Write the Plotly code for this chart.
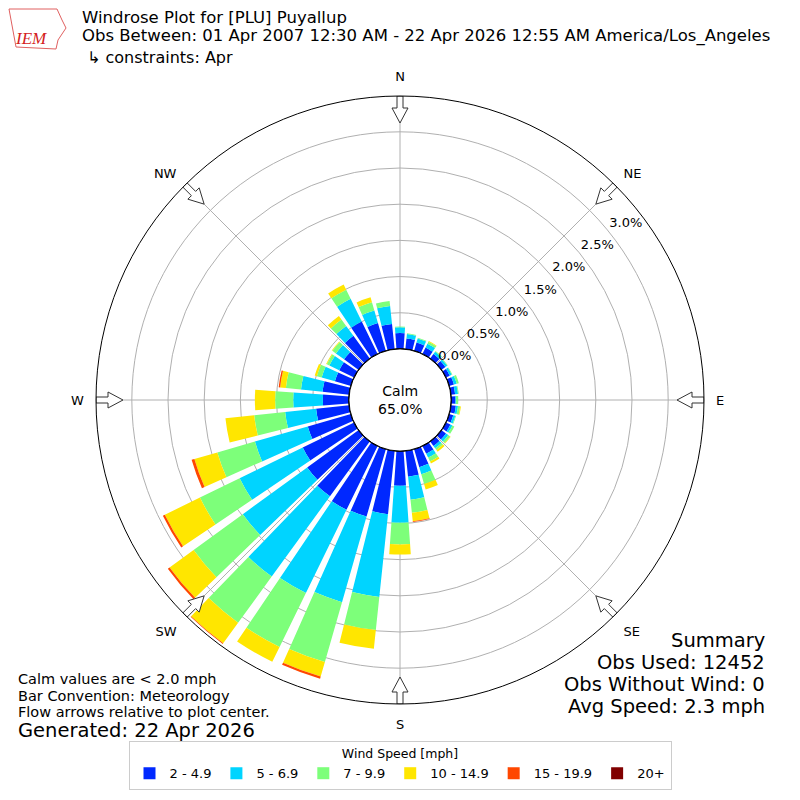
import math
import plotly.graph_objects as go

# -- data: percent of observations by direction (deg, meteorology) and speed bin
directions = list(range(0, 360, 10))
speed_bins = ["2 - 4.9", "5 - 6.9", "7 - 9.9", "10 - 14.9", "15 - 19.9", "20+"]
bin_colors = ["#0028ff", "#00d4ff", "#7dff7a", "#ffe600", "#ff4700", "#800000"]

spd_2_5 = [0.22, 0.15, 0.12, 0.10, 0.08, 0.07, 0.06, 0.07, 0.06, 0.06, 0.07, 0.06,
           0.07, 0.08, 0.08, 0.12, 0.26, 0.36, 0.48, 0.88, 0.97, 0.98, 0.94, 0.88,
           0.79, 0.62, 0.46, 0.36, 0.37, 0.23, 0.23, 0.25, 0.39, 0.50, 0.40, 0.35]
spd_5_7 = [0.08, 0.06, 0.06, 0.06, 0.04, 0.03, 0.03, 0.04, 0.04, 0.01, 0.03, 0.03,
           0.03, 0.04, 0.04, 0.06, 0.10, 0.32, 0.51, 1.15, 1.23, 1.28, 1.37, 1.10,
           0.97, 0.76, 0.43, 0.41, 0.30, 0.19, 0.15, 0.14, 0.17, 0.35, 0.18, 0.25]
spd_7_10 = [0.01, 0.01, 0.01, 0.03, 0.01, 0.01, 0.01, 0.03, 0.01, 0.03, 0.03, 0.01,
            0.03, 0.03, 0.03, 0.06, 0.14, 0.18, 0.30, 0.46, 0.86, 0.83, 0.79, 0.84,
            0.61, 0.54, 0.43, 0.25, 0.21, 0.07, 0.04, 0.06, 0.11, 0.14, 0.12, 0.07]
spd_10_15 = [0.0, 0.0, 0.0, 0.01, 0.0, 0.0, 0.0, 0.0, 0.0, 0.0, 0.01, 0.0,
             0.0, 0.01, 0.03, 0.03, 0.08, 0.12, 0.14, 0.26, 0.21, 0.23, 0.35, 0.41,
             0.54, 0.33, 0.40, 0.28, 0.08, 0.03, 0.01, 0.01, 0.06, 0.08, 0.07, 0.0]
spd_15_20 = [0.0, 0.0, 0.0, 0.0, 0.0, 0.0, 0.0, 0.0, 0.0, 0.0, 0.0, 0.0,
             0.0, 0.0, 0.0, 0.0, 0.0, 0.01, 0.0, 0.0, 0.03, 0.0, 0.01, 0.03,
             0.03, 0.04, 0.0, 0.0, 0.02, 0.0, 0.0, 0.0, 0.0, 0.0, 0.0, 0.0]
spd_20_up = [0.0] * 36

compass_angles = [0, 45, 90, 135, 180, 225, 270, 315]
compass_labels = ["N", "NE", "E", "SE", "S", "SW", "W", "NW"]
ring_vals = [0.0, 0.5, 1.0, 1.5, 2.0, 2.5, 3.0]

calm_pct = 65.0
r_max = 3.495
hole = 0.168

font = "DejaVu Sans"

# page puts the plot 8px in from the corner, so place things 8px up/left
OFF = 8


def px(x):
    return (x - OFF) / 800.0


def py(y):
    return 1 - (y - OFF) / 800.0


fig = go.Figure()

# Add traces (stacked bars)
for name, vals, color in zip(speed_bins,
                             [spd_2_5, spd_5_7, spd_7_10, spd_10_15, spd_15_20, spd_20_up],
                             bin_colors):
    fig.add_trace(go.Barpolar(
        r=vals, theta=directions, width=8, name=name,
        marker=dict(color=color, line=dict(width=0)),
    ))

# calm circle outline
circ = list(range(0, 361, 2))
fig.add_trace(go.Scatterpolar(
    r=[0] * len(circ), theta=circ, mode="lines",
    line=dict(color="black", width=1.5), showlegend=False, hoverinfo="skip",
))

# ring labels, set a little outside each ring like matplotlib does
fig.add_trace(go.Scatterpolar(
    r=[v + 0.255 for v in ring_vals], theta=[52] * len(ring_vals), mode="text",
    text=["%.1f%%" % v for v in ring_vals], textfont=dict(size=13, family=font, color="black"),
    showlegend=False, hoverinfo="skip", cliponaxis=False,
))


# flow arrows on the rim, pointing to the center
def arrow(bearing, outer_px=304.0, hole_px=51.0):
    tmpl = [(0, -3), (12, -3), (12, -8), (27, 0), (12, 8), (12, 3), (0, 3), (0, -3)]
    rr, tt = [], []
    for d, w in tmpl:
        rp = outer_px - d
        dist = math.hypot(rp, w)
        rr.append(r_max * (dist - hole_px) / (outer_px - hole_px))
        tt.append(bearing + math.degrees(math.atan2(w, rp)))
    return rr, tt


for b in compass_angles:
    rr, tt = arrow(b)
    fig.add_trace(go.Scatterpolar(
        r=rr, theta=tt, mode="lines", fill="toself", fillcolor="white",
        line=dict(color="#333333", width=1), showlegend=False, hoverinfo="skip",
    ))

fig.update_layout(
    width=800, height=800,
    margin=dict(l=0, r=0, t=0, b=0),
    paper_bgcolor="white",
    font=dict(family=font, size=13, color="black"),
    polar=dict(
        domain=dict(x=[px(96), px(704)], y=[py(704), py(96)]),
        hole=hole,
        bgcolor="white",
        barmode="stack",
        angularaxis=dict(
            rotation=90, direction="clockwise",
            tickmode="array", tickvals=compass_angles, ticktext=compass_labels,
            showgrid=True, gridcolor="#b0b0b0", gridwidth=1,
            showline=True, linecolor="black", linewidth=1,
            ticks="outside", ticklen=9, tickcolor="rgba(0,0,0,0)",
            tickfont=dict(size=13),
        ),
        radialaxis=dict(
            range=[0, r_max], angle=45,
            tickmode="array", tickvals=ring_vals, showticklabels=False,
            showgrid=True, gridcolor="#b0b0b0", gridwidth=1,
            showline=False, ticks="",
        ),
    ),
    legend=dict(
        orientation="h", x=px(400), xanchor="center", y=py(790), yanchor="bottom",
        bordercolor="#cccccc", borderwidth=1, bgcolor="white",
        title=dict(text="Wind Speed [mph]", side="top center", font=dict(size=12.5)),
        font=dict(size=13), traceorder="normal",
    ),
)

# Titles and notes
ann = [
    dict(x=80, y=18, text="Windrose Plot for [PLU] Puyallup", size=16.5, xa="left"),
    dict(x=80, y=36,
         text="Obs Between: 01 Apr 2007 12:30 AM - 22 Apr 2026 12:55 AM America/Los_Angeles",
         size=16.5, xa="left"),
    dict(x=85, y=57, text="↳ constraints: Apr", size=16, xa="left"),
    dict(x=16, y=679, text="Calm values are < 2.0 mph", size=14.5, xa="left"),
    dict(x=16, y=696, text="Bar Convention: Meteorology", size=14.5, xa="left"),
    dict(x=16, y=712, text="Flow arrows relative to plot center.", size=14.5, xa="left"),
    dict(x=16, y=730, text="Generated: 22 Apr 2026", size=19.5, xa="left"),
    dict(x=767, y=640, text="Summary", size=19.5, xa="right"),
    dict(x=767, y=662, text="Obs Used: 12452", size=19.5, xa="right"),
    dict(x=767, y=684, text="Obs Without Wind: 0", size=19.5, xa="right"),
    dict(x=767, y=706, text="Avg Speed: 2.3 mph", size=19.5, xa="right"),
    dict(x=400, y=400, text="Calm<br>%.1f%%" % calm_pct, size=14, xa="center"),
]
for a in ann:
    fig.add_annotation(x=px(a["x"]), y=py(a["y"]), xref="paper", yref="paper",
                       text=a["text"], showarrow=False, xanchor=a["xa"], yanchor="middle",
                       font=dict(size=a["size"], family=font, color="black"))

# IEM logo stand-in: rough state outline plus the letters
fig.add_shape(type="path", xref="paper", yref="paper",
              path="M %f %f L %f %f L %f %f L %f %f L %f %f L %f %f L %f %f Z" % (
                  px(9), py(9), px(57), py(9), px(62), py(20), px(66), py(28),
                  px(58), py(40), px(56), py(49), px(16), py(47)),
              line=dict(color="#e06060", width=1), fillcolor="rgba(0,0,0,0)")
fig.add_annotation(x=px(31), y=py(39), xref="paper", yref="paper", text="<i>IEM</i>",
                   showarrow=False, xanchor="center", yanchor="middle",
                   font=dict(size=17, family="Liberation Serif", color="#d42020"))

fig.write_html("out.html")
